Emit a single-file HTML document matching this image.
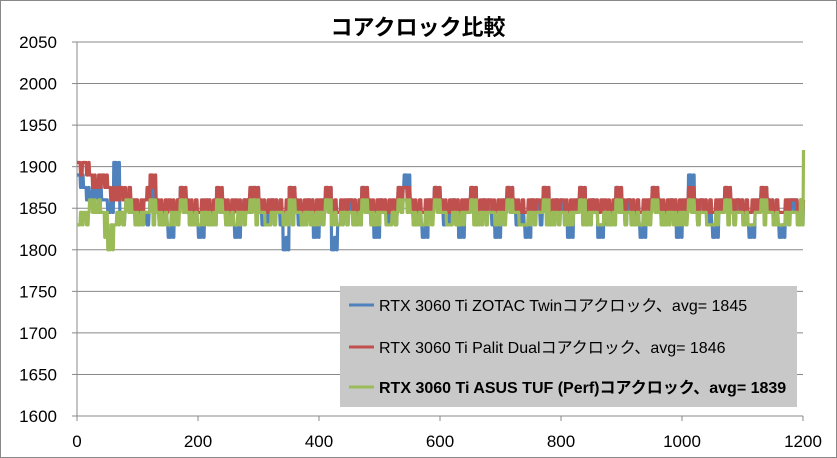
<!DOCTYPE html>
<html><head><meta charset="utf-8">
<style>
html,body{margin:0;padding:0;background:#fff;}
svg{display:block;font-family:"Liberation Sans","Noto Sans CJK JP",sans-serif;}
</style></head>
<body>
<svg id="chart" width="837" height="458" viewBox="0 0 837 458">
<rect x="0.5" y="0.5" width="836" height="457" fill="#fff" stroke="#888"/>
<text x="418" y="35" text-anchor="middle" font-size="22" font-weight="bold" fill="#000">コアクロック比較</text>
<g id="grid"></g><g id="series"></g>
<g>
<rect x="340" y="286" width="457" height="121" fill="#c8c8c8"/>
<g><line x1="349" y1="305" x2="374" y2="305" stroke="#4f81bd" stroke-width="3"/><text x="379" y="311" font-size="16" fill="#000">RTX 3060 Ti ZOTAC Twinコアクロック、avg= 1845</text></g>
<g><line x1="349" y1="347" x2="374" y2="347" stroke="#c0504d" stroke-width="3"/><text x="379" y="353" font-size="16" fill="#000">RTX 3060 Ti Palit Dualコアクロック、avg= 1846</text></g>
<g><line x1="349" y1="387" x2="374" y2="387" stroke="#9bbb59" stroke-width="3"/><text x="379" y="393" font-size="16" font-weight="bold" fill="#000">RTX 3060 Ti ASUS TUF (Perf)コアクロック、avg= 1839</text></g>
</g>
</svg>
<script>
const xTicks=[0,200,400,600,800,1000,1200];
const yTicks=[1600,1650,1700,1750,1800,1850,1900,1950,2000,2050];
const sampleStep=10;
const zotac=[1890,1875,1860,1875,1860,1845,1905,1845,1860,1845,1830,1845,1875,1845,1830,1815,1845,1875,1845,1830,1815,1845,1830,1860,1845,1830,1815,1845,1860,1875,1845,1830,1860,1845,1800,1875,1845,1830,1860,1815,1845,1875,1800,1830,1845,1860,1830,1875,1845,1815,1860,1830,1845,1875,1890,1845,1830,1815,1860,1875,1845,1830,1860,1815,1845,1875,1830,1860,1845,1815,1845,1875,1845,1830,1815,1860,1845,1875,1830,1860,1845,1815,1845,1875,1830,1860,1815,1845,1830,1875,1845,1860,1830,1815,1845,1875,1845,1830,1860,1815,1845,1890,1845,1860,1830,1815,1845,1875,1845,1860,1830,1815,1845,1875,1860,1830,1815,1845,1860,1830,1860];
const palit=[1905,1905,1890,1875,1890,1875,1860,1875,1860,1860,1845,1860,1890,1860,1845,1860,1845,1875,1860,1845,1845,1860,1845,1875,1860,1845,1860,1845,1860,1875,1860,1845,1860,1845,1845,1875,1860,1845,1860,1845,1860,1875,1845,1845,1860,1860,1845,1875,1860,1845,1860,1845,1860,1875,1875,1860,1845,1845,1860,1875,1860,1845,1860,1845,1860,1875,1845,1860,1860,1845,1860,1875,1860,1845,1845,1860,1860,1875,1845,1860,1860,1845,1860,1875,1845,1860,1845,1860,1845,1875,1860,1860,1845,1845,1860,1875,1860,1845,1860,1845,1860,1875,1860,1860,1845,1845,1860,1875,1860,1860,1845,1845,1860,1875,1860,1845,1845,1860,1860,1845,1860];
const asus=[1830,1845,1860,1845,1845,1800,1830,1845,1860,1845,1830,1845,1860,1845,1830,1830,1845,1860,1845,1830,1830,1845,1830,1860,1845,1830,1830,1845,1845,1860,1845,1830,1845,1845,1830,1860,1845,1830,1845,1830,1845,1860,1830,1830,1845,1845,1830,1860,1845,1830,1845,1830,1845,1860,1860,1845,1830,1830,1845,1860,1845,1830,1845,1830,1845,1860,1830,1845,1845,1830,1845,1860,1845,1830,1830,1845,1845,1860,1830,1845,1845,1830,1845,1860,1830,1845,1830,1845,1830,1860,1845,1845,1830,1830,1845,1860,1845,1830,1845,1830,1845,1860,1845,1845,1830,1830,1845,1860,1845,1845,1830,1830,1845,1860,1845,1830,1830,1845,1845,1830,1920];
const zotacMid=[1875,1860,1875,1845,1860,1860,1860,1830,1845,1860,1845,1830,1860,1830,1845,1830,1860,1860,1830,1845,1830,1860,1845,1845,1830,1845,1830,1860,1845,1860,1830,1845,1845,1830,1815,1860,1830,1845,1845,1830,1860,1860,1815,1845,1860,1845,1845,1860,1830,1830,1845,1845,1830,1860,1860,1830,1845,1830,1845,1860,1830,1845,1845,1830,1860,1860,1845,1845,1830,1830,1860,1860,1830,1845,1830,1845,1830,1860,1845,1845,1830,1830,1860,1860,1845,1845,1830,1830,1845,1860,1830,1845,1845,1830,1860,1860,1830,1845,1845,1830,1860,1860,1830,1845,1845,1830,1860,1860,1830,1845,1845,1830,1860,1860,1845,1845,1830,1860,1845,1845];
const palitMid=[1890,1890,1875,1890,1875,1860,1875,1860,1875,1845,1860,1875,1875,1845,1860,1845,1860,1860,1845,1860,1860,1845,1860,1860,1845,1860,1845,1860,1875,1860,1845,1860,1845,1860,1860,1860,1845,1860,1845,1860,1845,1860,1860,1860,1845,1845,1860,1860,1845,1860,1845,1860,1845,1860,1860,1845,1860,1860,1845,1860,1845,1860,1845,1860,1845,1860,1860,1845,1845,1860,1845,1860,1845,1860,1860,1845,1845,1860,1860,1845,1845,1860,1845,1860,1860,1845,1860,1845,1860,1860,1845,1845,1860,1860,1845,1860,1845,1860,1845,1860,1845,1860,1845,1845,1860,1860,1845,1860,1845,1845,1860,1860,1845,1860,1845,1860,1845,1845,1860,1860];
const asusMid=[1845,1830,1845,1860,1815,1830,1845,1830,1845,1830,1845,1845,1830,1830,1845,1845,1830,1845,1830,1845,1845,1830,1845,1845,1830,1845,1845,1830,1860,1830,1845,1830,1830,1845,1845,1830,1845,1845,1830,1845,1830,1845,1845,1845,1830,1830,1845,1845,1830,1845,1845,1830,1830,1845,1845,1830,1845,1845,1830,1845,1845,1830,1830,1845,1845,1830,1845,1830,1845,1845,1830,1845,1845,1830,1845,1830,1845,1830,1845,1830,1830,1845,1845,1830,1845,1845,1830,1830,1845,1845,1830,1830,1845,1845,1830,1845,1830,1845,1830,1845,1830,1845,1830,1845,1830,1845,1845,1830,1830,1845,1845,1830,1845,1830,1845,1845,1830,1830,1845,1860];
const NS='http://www.w3.org/2000/svg';
const X0=77,X1=803,Y0=416,Y1=42;
function xs(v){return X0+(v-0)/(1200-0)*(X1-X0);}
function ys(v){return Y0-(v-1600)/(2050-1600)*(Y0-Y1);}
const grid=document.getElementById('grid');
for(const t of yTicks){
  const l=document.createElementNS(NS,'line');
  
  
  l.setAttribute('x1',X0);l.setAttribute('x2',X1);l.setAttribute('y1',ys(t));l.setAttribute('y2',ys(t));
  l.setAttribute('stroke','#888');l.setAttribute('stroke-width','1');
  grid.appendChild(l);
  const tk=document.createElementNS(NS,'line');
  
  
  tk.setAttribute('x1',X0-5);tk.setAttribute('x2',X0);tk.setAttribute('y1',ys(t));tk.setAttribute('y2',ys(t));
  tk.setAttribute('stroke','#888');
  grid.appendChild(tk);
  const tx=document.createElementNS(NS,'text');
  
  
  tx.setAttribute('x',X0-20);tx.setAttribute('y',ys(t)+6);tx.setAttribute('text-anchor','end');tx.setAttribute('font-size','17');
  tx.textContent=t;grid.appendChild(tx);
}
const ax=document.createElementNS(NS,'line');


ax.setAttribute('x1',X0);ax.setAttribute('x2',X0);ax.setAttribute('y1',Y1);ax.setAttribute('y2',Y0);ax.setAttribute('stroke','#888');
grid.appendChild(ax);
for(const t of xTicks){
  const tk=document.createElementNS(NS,'line');
  
  
  tk.setAttribute('x1',xs(t));tk.setAttribute('x2',xs(t));tk.setAttribute('y1',Y0);tk.setAttribute('y2',Y0+5);tk.setAttribute('stroke','#888');
  grid.appendChild(tk);
  const tx=document.createElementNS(NS,'text');
  
  
  tx.setAttribute('x',xs(t));tx.setAttribute('y',447);tx.setAttribute('text-anchor','middle');tx.setAttribute('font-size','17');
  tx.textContent=t;grid.appendChild(tx);
}
const sg=document.getElementById('series');
function draw(arr,mid,color,name){
  let d='';
  arr.forEach((v,i)=>{
    const x=xs(i*sampleStep),y=ys(v);
    if(i===0){d+='M'+x+' '+y;}
    else{d+=' L'+x+' '+ys(arr[i-1])+' L'+(x+0.5)+' '+y;}
    if(i<mid.length){
      const xm=xs(i*sampleStep+5);
      d+=' L'+xm+' '+y+' L'+(xm+0.5)+' '+ys(mid[i])+' L'+(xm+2)+' '+ys(mid[i])+' L'+(xm+2.5)+' '+y;
    }
  });
  const p=document.createElementNS(NS,'path');
  
  
  p.setAttribute('d',d);p.setAttribute('fill','none');p.setAttribute('stroke',color);
  p.setAttribute('stroke-width','3.2');p.setAttribute('stroke-linejoin','round');
  sg.appendChild(p);
}
draw(zotac,zotacMid,'#4f81bd','series-zotac');
draw(palit,palitMid,'#c0504d','series-palit');
draw(asus,asusMid,'#9bbb59','series-asus');
</script>
</body></html>
